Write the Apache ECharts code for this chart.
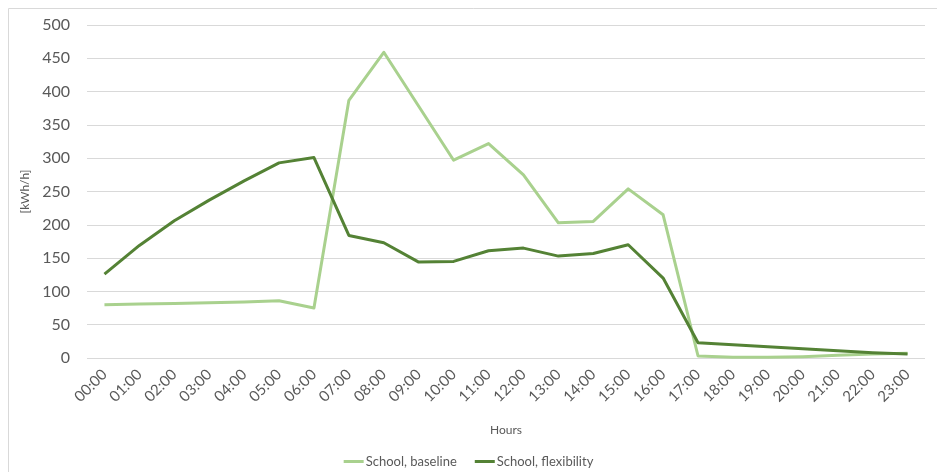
<!DOCTYPE html>
<html>
<head>
<meta charset="utf-8">
<script src="https://cdn.jsdelivr.net/npm/echarts@6/dist/echarts.min.js"></script>
<style>
  html, body { margin: 0; padding: 0; background: #fff; }
  #chart { width: 937px; height: 472px; }
</style>
</head>
<body>
<div id="chart"></div>
<script>
// Hourly load profile of a school, baseline vs. with flexibility
const hours = ['00:00','01:00','02:00','03:00','04:00','05:00','06:00','07:00','08:00','09:00','10:00','11:00',
               '12:00','13:00','14:00','15:00','16:00','17:00','18:00','19:00','20:00','21:00','22:00','23:00'];
const baseline = [80, 81, 82, 83, 84, 86, 75, 387, 459, 378, 297, 322, 275, 203, 205, 254, 215, 3, 1, 1, 2, 4, 6, 7];
const flexibility = [126, 169, 206, 237, 266, 293, 301, 184, 173, 144, 145, 161, 165, 153, 157, 170, 120, 23, 20, 17, 14, 11, 8, 6];
const seriesNames = ['School, baseline', 'School, flexibility'];

const font = 'Lato, "Open Sans", sans-serif';
const textColor = '#595959';

const chart = echarts.init(document.getElementById('chart'), null, { renderer: 'canvas' });
chart.setOption({
  animation: false,
  textStyle: { fontFamily: font },
  graphic: [{
    type: 'rect',
    shape: { x: 8.5, y: 8.5, width: 940, height: 470 },
    style: { fill: 'none', stroke: '#d9d9d9', lineWidth: 1 },
    silent: true
  }],
  grid: { left: 87, right: 12, top: 25, bottom: 114 },
  legend: {
    data: seriesNames,
    top: 450,
    left: 'center',
    icon: 'rect',
    itemWidth: 20,
    itemHeight: 3,
    itemGap: 18,
    itemStyle: { borderWidth: 0 },
    textStyle: { color: textColor, fontSize: 13, fontFamily: font, padding: [0, 0, 0, -3] }
  },
  xAxis: {
    type: 'category',
    data: hours,
    boundaryGap: true,
    name: 'Hours',
    nameLocation: 'middle',
    nameGap: 66,
    nameTextStyle: { color: textColor, fontSize: 12, fontFamily: font },
    axisLine: { show: false },
    axisTick: { show: false },
    axisLabel: { rotate: 45, color: textColor, fontSize: 15, margin: 14, fontFamily: font, interval: 0 }
  },
  yAxis: {
    type: 'value',
    min: 0,
    max: 500,
    interval: 50,
    name: '[kWh/h]',
    nameLocation: 'middle',
    nameGap: 48,
    nameTextStyle: { color: textColor, fontSize: 12, fontFamily: font },
    axisLine: { show: false },
    axisTick: { show: false },
    axisLabel: { color: textColor, fontSize: 16, margin: 17, fontFamily: font },
    splitLine: { lineStyle: { color: '#d9d9d9', width: 1 } }
  },
  series: [
    {
      name: seriesNames[0],
      type: 'line',
      data: baseline,
      symbol: 'none',
      lineStyle: { color: '#a9d18e', width: 3, join: 'round' },
      itemStyle: { color: '#a9d18e' }
    },
    {
      name: seriesNames[1],
      type: 'line',
      data: flexibility,
      symbol: 'none',
      lineStyle: { color: '#548235', width: 3, join: 'round' },
      itemStyle: { color: '#548235' }
    }
  ]
});
</script>
</body>
</html>
